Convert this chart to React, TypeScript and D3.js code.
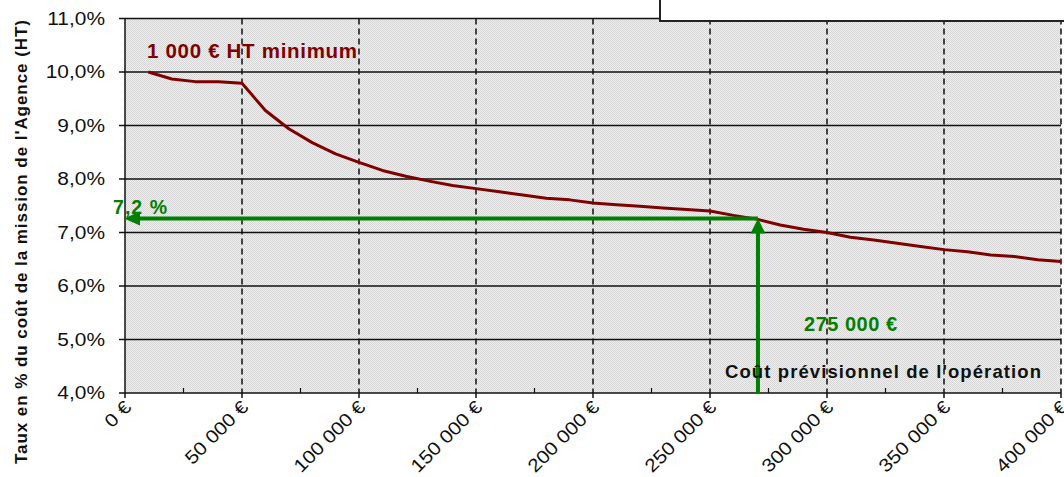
import * as d3 from "d3";

const costs = [
  10000, 20000, 30000, 40000, 50000, 60000, 70000, 80000, 90000, 100000,
  110000, 120000, 130000, 140000, 150000, 160000, 170000, 180000, 190000, 200000,
  210000, 220000, 230000, 240000, 250000, 260000, 270000, 280000, 290000, 300000,
  310000, 320000, 330000, 340000, 350000, 360000, 370000, 380000, 390000, 400000,
];
const rates = [
  10.0, 9.87, 9.82, 9.82, 9.79, 9.28, 8.94, 8.68, 8.47, 8.31,
  8.16, 8.05, 7.96, 7.88, 7.82, 7.76, 7.7, 7.64, 7.61, 7.55,
  7.52, 7.49, 7.46, 7.43, 7.4, 7.32, 7.25, 7.14, 7.06, 7.0,
  6.91, 6.86, 6.8, 6.74, 6.68, 6.64, 6.58, 6.55, 6.49, 6.46,
];

const yTicks = [4, 5, 6, 7, 8, 9, 10, 11];
const yTickLabels = ["4,0%", "5,0%", "6,0%", "7,0%", "8,0%", "9,0%", "10,0%", "11,0%"];
const xTicks = [0, 50000, 100000, 150000, 200000, 250000, 300000, 350000, 400000];
const xTickLabels = [
  "0 €", "50 000 €", "100 000 €", "150 000 €", "200 000 €",
  "250 000 €", "300 000 €", "350 000 €", "400 000 €",
];
const xMinorTicks = [25000, 75000, 125000, 175000, 225000, 275000, 325000, 375000];

// reading of the example: cost -> rate
const exampleCost = 270500;
const exampleRate = 7.26;

const WIDTH = 1064;
const HEIGHT = 477;
const LEFT = 125;
const RIGHT = 1061;
const TOP = 18.5;
const BOTTOM = 393;

const RED = "#800000";
const GREEN = "#008000";
const FONT = "'Liberation Sans', Arial, sans-serif";

export default function App() {
  const x = d3.scaleLinear().domain([0, 400000]).range([LEFT, RIGHT]);
  const y = d3.scaleLinear().domain([4, 11]).range([BOTTOM, TOP]);

  const line = d3
    .line<number>()
    .x((_, i) => x(costs[i]))
    .y((d) => y(d));

  const ax = x(exampleCost);
  const ay = y(exampleRate);

  return (
    <svg
      width={WIDTH}
      height={HEIGHT}
      style={{ position: "absolute", left: 0, top: 0, fontFamily: FONT }}
    >
      <defs>
        <pattern id="bg" width={2} height={2} patternUnits="userSpaceOnUse">
          <rect width={2} height={2} fill="#efefef" />
          <rect width={1} height={1} fill="#d6d6d6" />
          <rect x={1} y={1} width={1} height={1} fill="#d6d6d6" />
        </pattern>
      </defs>

      <rect x={LEFT} y={TOP} width={RIGHT - LEFT} height={BOTTOM - TOP} fill="url(#bg)" />

      {/* vertical dashed grid */}
      {xTicks.slice(1).map((t) => (
        <line
          key={t}
          x1={x(t)}
          x2={x(t)}
          y1={TOP}
          y2={BOTTOM}
          stroke="#111"
          strokeWidth={1.5}
          strokeDasharray="6,4"
        />
      ))}

      {/* horizontal grid */}
      {yTicks.map((t) => (
        <line key={t} x1={LEFT} x2={RIGHT} y1={y(t)} y2={y(t)} stroke="#111" strokeWidth={1.5} />
      ))}

      {/* axes */}
      <line x1={LEFT} x2={LEFT} y1={TOP} y2={BOTTOM} stroke="#111" strokeWidth={1.5} />
      {yTicks.map((t, i) => (
        <g key={t}>
          <line x1={LEFT - 6} x2={LEFT} y1={y(t)} y2={y(t)} stroke="#111" strokeWidth={1.5} />
          <text
            transform={`translate(105, ${y(t) + 1}) scale(1.1, 1)`}
            textAnchor="end"
            dominantBaseline="middle"
            fontSize={19}
            fill="#111"
          >
            {yTickLabels[i]}
          </text>
        </g>
      ))}
      {xTicks.map((t, i) => (
        <g key={t}>
          <line x1={x(t)} x2={x(t)} y1={BOTTOM} y2={BOTTOM + 5} stroke="#111" strokeWidth={1.5} />
          <text
            transform={`translate(${x(t) + 4}, ${BOTTOM + 12}) rotate(-45) scale(1.12, 1)`}
            textAnchor="end"
            dominantBaseline="middle"
            fontSize={18.5}
            fill="#111"
          >
            {xTickLabels[i]}
          </text>
        </g>
      ))}
      {xMinorTicks.map((t) => (
        <line key={t} x1={x(t)} x2={x(t)} y1={BOTTOM - 5} y2={BOTTOM} stroke="#111" strokeWidth={1.2} />
      ))}

      {/* rate curve */}
      <path d={line(rates) ?? ""} fill="none" stroke={RED} strokeWidth={3} strokeLinejoin="round" />

      {/* reading arrows */}
      <line x1={ax} x2={LEFT + 14} y1={ay} y2={ay} stroke={GREEN} strokeWidth={4} />
      <path d={`M${LEFT - 1},${ay} L${LEFT + 15},${ay - 7} L${LEFT + 15},${ay + 7} Z`} fill={GREEN} />
      <line x1={ax} x2={ax} y1={BOTTOM} y2={ay + 14} stroke={GREEN} strokeWidth={4} />
      <path d={`M${ax},${ay} L${ax - 7.5},${ay + 15} L${ax + 7.5},${ay + 15} Z`} fill={GREEN} />

      {/* annotations */}
      <text x={147} y={58} fontSize={20.5} fontWeight="bold" fill={RED} textLength={210}>
        1 000 € HT minimum
      </text>
      <text x={113} y={214} fontSize={19.5} fontWeight="bold" fill={GREEN} textLength={54}>
        7,2 %
      </text>
      <text x={804} y={331} fontSize={20} fontWeight="bold" fill={GREEN} textLength={93}>
        275 000 €
      </text>
      <text x={725} y={378} fontSize={18.5} fontWeight="bold" fill="#111" textLength={316}>
        Coût prévisionnel de l'opération
      </text>

      {/* y axis title */}
      <text
        transform={`translate(27, 242) rotate(-90)`}
        textAnchor="middle"
        fontSize={17}
        fontWeight="bold"
        fill="#111"
        textLength={444}
      >
        Taux en % du coût de la mission de l'Agence (HT)
      </text>

      {/* legend box, cut at the top */}
      <rect x={660} y={-10} width={420} height={31} fill="#fff" stroke="#222" strokeWidth={2} />
    </svg>
  );
}
